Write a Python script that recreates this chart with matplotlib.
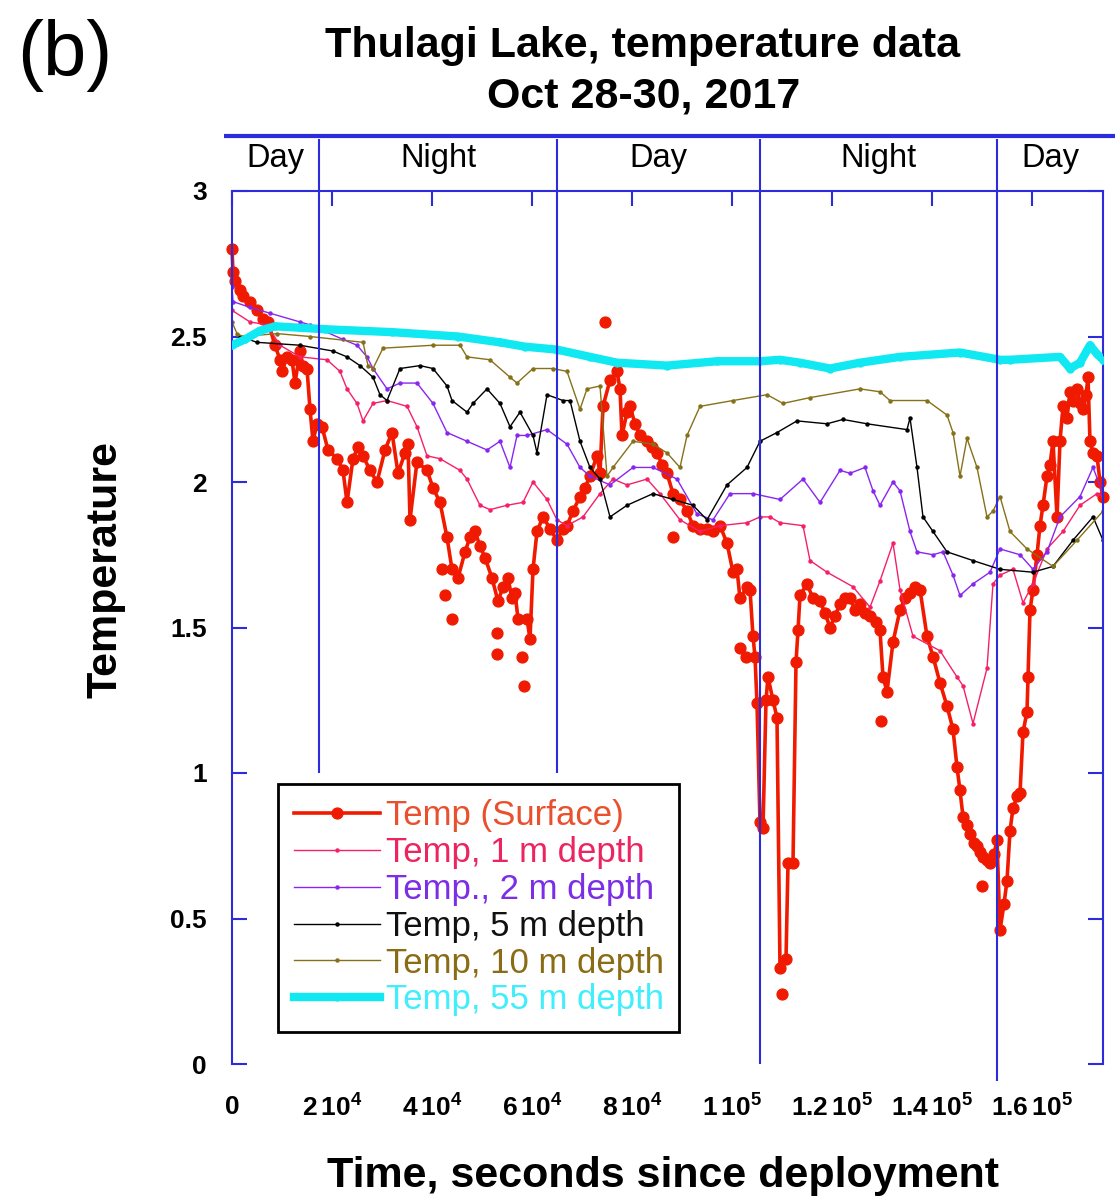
import numpy as np
import matplotlib
matplotlib.use("Agg")
import matplotlib.pyplot as plt

plt.rcParams["font.family"] = ["Liberation Sans", "DejaVu Sans"]
plt.rcParams["mathtext.fontset"] = "custom"
plt.rcParams["mathtext.rm"] = "Liberation Sans"
plt.rcParams["mathtext.bf"] = "Liberation Sans:bold"

# ── Data (time in s, temperature in °C) ─────────────────────────────────────
surface = [
    (0, 2.80), (200, 2.72), (600, 2.69), (1600, 2.66), (2200, 2.64), (3600, 2.62),
    (5000, 2.59), (6200, 2.56), (7200, 2.55), (8600, 2.47), (9600, 2.42), (10000, 2.38),
    (11000, 2.43), (12000, 2.42), (12600, 2.34), (13600, 2.45), (14200, 2.40), (15000, 2.39),
    (15600, 2.25), (16200, 2.14), (17000, 2.20), (18000, 2.19), (19200, 2.11), (21000, 2.08),
    (22200, 2.04), (23000, 1.93), (24200, 2.08), (25200, 2.12), (26200, 2.09), (27600, 2.04),
    (29000, 2.00), (30600, 2.11), (32000, 2.17), (33200, 2.03), (34600, 2.10), (35200, 2.13),
    (35600, 1.87), (37000, 2.07), (39000, 2.04), (40200, 1.98), (41600, 1.93), (43000, 1.81),
    (44000, 1.70), (45200, 1.67), (46600, 1.76), (47600, 1.81), (48600, 1.83), (49600, 1.78),
    (50600, 1.74), (52000, 1.67), (53200, 1.59), (54200, 1.64), (55200, 1.67), (56000, 1.60),
    (56600, 1.62), (57200, 1.53), (59000, 1.53), (59600, 1.46), (60200, 1.70), (61000, 1.83),
    (62200, 1.88), (63600, 1.84), (65000, 1.80), (66200, 1.84), (67000, 1.85), (68200, 1.90),
    (69600, 1.95), (70600, 1.98), (71600, 2.02), (73000, 2.09), (73600, 2.03), (74200, 2.26),
    (75600, 2.35), (77000, 2.38), (77600, 2.32), (78000, 2.16), (79000, 2.24), (79600, 2.26),
    (80600, 2.20), (81600, 2.16), (83000, 2.14), (84000, 2.12), (85000, 2.10), (86000, 2.06),
    (87000, 2.03), (88200, 1.96), (89600, 1.94), (91000, 1.90), (92200, 1.85), (93600, 1.84),
    (95000, 1.84), (96200, 1.83), (97600, 1.85), (99000, 1.79), (100200, 1.69), (101000, 1.70),
    (101600, 1.60), (103000, 1.64), (103600, 1.63), (104200, 1.47), (104600, 1.40), (105000, 1.24),
    (105600, 0.83), (106200, 0.81), (106800, 1.25), (107200, 1.33), (108200, 1.25), (109000, 1.19),
    (109600, 0.33), (110800, 0.36), (111200, 0.69), (112200, 0.69), (112800, 1.38), (113200, 1.49),
    (113600, 1.61), (115000, 1.65), (116200, 1.60), (117600, 1.59), (118600, 1.55), (119600, 1.50),
    (120600, 1.54), (121600, 1.58), (122600, 1.60), (123600, 1.60), (124600, 1.56), (125600, 1.58),
    (126600, 1.55), (127600, 1.54), (128800, 1.52), (129600, 1.49), (130200, 1.33), (131000, 1.28),
    (132200, 1.45), (133600, 1.56), (134600, 1.60), (135600, 1.62), (136600, 1.64), (137600, 1.63),
    (139000, 1.47), (140200, 1.40), (141600, 1.31), (143000, 1.23), (144200, 1.15), (145000, 1.02),
    (145600, 0.94), (146200, 0.85), (147000, 0.82), (147600, 0.79), (148400, 0.76), (149000, 0.75),
    (149600, 0.73), (150200, 0.71), (151000, 0.70), (151600, 0.69), (152400, 0.72), (153000, 0.77),
    (153600, 0.46), (154400, 0.55), (155000, 0.63), (155600, 0.80), (156200, 0.88), (157000, 0.92),
    (157600, 0.93), (158200, 1.14), (159000, 1.21), (159200, 1.33), (159600, 1.56), (160200, 1.63),
    (161000, 1.75), (161600, 1.85), (162200, 1.92), (163000, 2.02), (163600, 2.06), (164200, 2.14),
    (165000, 1.88), (165600, 2.14), (166200, 2.26), (167000, 2.22), (167600, 2.31), (168200, 2.28),
    (169000, 2.32), (169600, 2.27), (170200, 2.25), (170800, 2.30), (171200, 2.36), (171600, 2.14),
    (172200, 2.10), (173000, 2.09), (173600, 2.00), (174200, 1.95),
]
surface_stray = [
    (42000, 1.70), (42600, 1.61), (44000, 1.53), (53000, 1.48), (53000, 1.41),
    (58000, 1.40), (58400, 1.30), (74600, 2.55), (88200, 1.81), (101600, 1.43),
    (102800, 1.40), (110000, 0.24), (129800, 1.18), (150000, 0.61),
]
depth_1m = [
    (0, 2.59), (3600, 2.55), (7000, 2.54), (9600, 2.47), (13600, 2.43), (19000, 2.42),
    (21600, 2.38), (23000, 2.32), (25000, 2.27), (26200, 2.21), (28200, 2.27), (31000, 2.28),
    (35000, 2.26), (37000, 2.19), (39000, 2.09), (41600, 2.08), (45600, 2.04), (47000, 2.01),
    (49600, 1.92), (51600, 1.905), (55000, 1.92), (58200, 1.93), (60200, 2.00), (63000, 1.94),
    (65000, 1.87), (67000, 1.85), (70200, 1.88), (73600, 1.96), (76200, 2.01), (79000, 1.99),
    (83000, 2.01), (85600, 1.96), (89600, 1.87), (93600, 1.83), (97600, 1.85), (103000, 1.86),
    (105600, 1.88), (107600, 1.88), (109600, 1.86), (114200, 1.85), (115600, 1.73), (119000, 1.69),
    (124200, 1.64), (127600, 1.57), (129600, 1.66), (132200, 1.79), (133600, 1.63), (136200, 1.47),
    (141600, 1.42), (145000, 1.33), (146200, 1.30), (148200, 1.17), (151000, 1.36), (152200, 1.65),
    (153600, 1.68), (156200, 1.70), (158200, 1.585), (160200, 1.65), (163000, 1.77), (166200, 1.83),
    (169600, 1.92), (173000, 1.96), (174200, 1.95),
]
depth_2m = [
    (0, 2.67), (200, 2.62), (3600, 2.60), (7600, 2.58), (13600, 2.55), (15600, 2.54),
    (22200, 2.49), (25000, 2.47), (27000, 2.43), (28200, 2.39), (31000, 2.32), (33600, 2.34),
    (37000, 2.34), (40200, 2.27), (43000, 2.17), (47000, 2.14), (51000, 2.11), (53600, 2.14),
    (55600, 2.05), (57000, 2.16), (59000, 2.16), (63000, 2.18), (67000, 2.13), (69600, 2.05),
    (71600, 2.02), (75600, 1.99), (80200, 2.05), (84200, 2.05), (89000, 2.01), (93000, 1.89),
    (96200, 1.87), (99600, 1.96), (104200, 1.96), (109600, 1.94), (114200, 2.01), (117600, 1.93),
    (121600, 2.04), (123600, 2.03), (126600, 2.05), (128200, 1.97), (129600, 1.92), (132200, 2.00),
    (133600, 1.97), (135600, 1.83), (137000, 1.76), (140200, 1.75), (142200, 1.76), (144200, 1.68),
    (145600, 1.61), (148200, 1.65), (151600, 1.69), (153600, 1.77), (157600, 1.75), (160200, 1.70),
    (163000, 1.76), (165600, 1.88), (169600, 1.95), (172200, 2.05), (174200, 1.96),
]
depth_5m = [
    (1600, 2.50), (5000, 2.48), (13600, 2.47), (20200, 2.45), (23000, 2.43), (25600, 2.40),
    (28200, 2.36), (29600, 2.30), (31000, 2.28), (33600, 2.39), (37600, 2.40), (40200, 2.39),
    (43000, 2.33), (44000, 2.28), (47000, 2.24), (48200, 2.27), (51000, 2.32), (53600, 2.27),
    (55600, 2.19), (57600, 2.24), (60200, 2.16), (61000, 2.10), (63000, 2.30), (66200, 2.28),
    (67600, 2.28), (69600, 2.14), (71600, 2.05), (73600, 2.01), (75600, 1.88), (79000, 1.92),
    (84200, 1.96), (88200, 1.94), (92200, 1.92), (95000, 1.87), (99000, 1.99), (103000, 2.05),
    (105600, 2.14), (109000, 2.17), (113000, 2.21), (119000, 2.20), (122200, 2.215), (127000, 2.20),
    (135000, 2.18), (135600, 2.22), (137000, 2.05), (138200, 1.88), (140200, 1.83), (143000, 1.76),
    (148200, 1.73), (153600, 1.70), (160200, 1.69), (164200, 1.71), (168200, 1.80), (172200, 1.88),
    (174200, 1.80),
]
depth_10m = [
    (0, 2.55), (1000, 2.51), (2200, 2.50), (9000, 2.51), (15600, 2.50), (26200, 2.48),
    (27200, 2.40), (28200, 2.39), (30200, 2.46), (40200, 2.47), (45600, 2.47), (47000, 2.43),
    (51600, 2.42), (55600, 2.36), (57000, 2.34), (60200, 2.39), (64200, 2.39), (67000, 2.38),
    (69600, 2.25), (71000, 2.32), (73600, 2.33), (75000, 2.02), (76200, 2.05), (80200, 2.14),
    (84200, 2.13), (87000, 2.10), (89600, 2.05), (91000, 2.16), (93600, 2.26), (100200, 2.28),
    (107000, 2.30), (110200, 2.27), (115600, 2.29), (125600, 2.32), (129600, 2.31), (131600, 2.28),
    (139000, 2.28), (143000, 2.23), (144200, 2.17), (145600, 2.02), (147000, 2.15), (149000, 2.05),
    (151000, 1.88), (152200, 1.90), (153600, 1.95), (155600, 1.83), (159000, 1.77), (164200, 1.71),
    (169000, 1.80), (174200, 1.90),
]
depth_55m = [
    (0, 2.47), (2600, 2.49), (5600, 2.52), (8600, 2.535), (18600, 2.525), (32000, 2.515),
    (45200, 2.50), (53600, 2.48), (58600, 2.465), (65000, 2.455), (71600, 2.43), (77000, 2.41),
    (87000, 2.40), (97000, 2.415), (105600, 2.415), (109600, 2.42), (113600, 2.41), (119600, 2.39),
    (125600, 2.41), (133600, 2.43), (145600, 2.445), (153600, 2.42), (155600, 2.42), (165600, 2.43),
    (167600, 2.39), (169600, 2.41), (171600, 2.47), (173000, 2.44), (174200, 2.42),
]

labels = ["Temp (Surface)", "Temp, 1 m depth", "Temp., 2 m depth",
          "Temp, 5 m depth", "Temp, 10 m depth", "Temp, 55 m depth"]

# day / night boundaries (s) and period names
boundaries = [17400, 65000, 105600, 153000]
periods = ["Day", "Night", "Day", "Night", "Day"]

x_ticks = [0, 20000, 40000, 60000, 80000, 100000, 120000, 140000, 160000]
x_ticklabels = ["0", r"$\mathbf{2\,10^{4}}$", r"$\mathbf{4\,10^{4}}$", r"$\mathbf{6\,10^{4}}$",
                r"$\mathbf{8\,10^{4}}$", r"$\mathbf{1\,10^{5}}$", r"$\mathbf{1.2\,10^{5}}$",
                r"$\mathbf{1.4\,10^{5}}$", r"$\mathbf{1.6\,10^{5}}$"]
y_ticks = [0, 0.5, 1, 1.5, 2, 2.5, 3]
y_ticklabels = ["0", "0.5", "1", "1.5", "2", "2.5", "3"]
X_MAX = 174200

# ── Colours ─────────────────────────────────────────────────────────────────
BLUE = "#2c2cdc"
RED = "#f01a00"
PINK = "#f52068"
PURPLE = "#8a25f0"
BLACK = "#000000"
OLIVE = "#86701a"
CYAN = "#10e8f2"
TEXT_COLORS = ["#e8502e", "#ec2560", "#7b2ee6", "#111111", "#8a6c14", "#40eefc"]

# ── Figure ──────────────────────────────────────────────────────────────────
fig = plt.figure(figsize=(11.15, 12), dpi=100)
ax = fig.add_axes([232 / 1115, 136 / 1200, 871 / 1115, 873 / 1200])

def xy(series):
    arr = np.array(series, dtype=float)
    return arr[:, 0], arr[:, 1]

t, v = xy(surface)
ax.plot(t, v, "-o", color=RED, lw=2.6, ms=7.8, mec=RED, label=labels[0],
        zorder=2, clip_on=False)
t, v = xy(surface_stray)
ax.plot(t, v, "o", color=RED, ms=7.8, mec=RED, zorder=2)
styles = [(depth_1m, PINK), (depth_2m, PURPLE), (depth_5m, BLACK), (depth_10m, OLIVE)]
for (series, col), lab in zip(styles, labels[1:5]):
    t, v = xy(series)
    ax.plot(t, v, "-o", color=col, lw=1.0, ms=2.2, label=lab, zorder=2.5)
t, v = xy(depth_55m)
ax.plot(t, v, "-o", color=CYAN, lw=6, ms=5, mec=CYAN, label=labels[5], zorder=2.8)

ax.set_xlim(0, X_MAX)
ax.set_ylim(0, 3)

# spines and ticks
for side in ["left", "right", "top"]:
    ax.spines[side].set_color(BLUE)
    ax.spines[side].set_linewidth(1.5)
ax.spines["bottom"].set_visible(False)

ax.set_xticks(x_ticks)
ax.set_xticklabels(x_ticklabels, fontsize=19, fontweight="bold")
ax.set_yticks(y_ticks)
ax.set_yticklabels(y_ticklabels, fontsize=19, fontweight="bold")
ax.tick_params(axis="x", direction="in", length=11, width=1.5, color=BLUE,
               top=True, bottom=False, pad=22)
ax.tick_params(axis="y", direction="in", length=11, width=1.5, color=BLUE,
               left=True, right=True, pad=18)

# day / night band above the axes
ax.plot([-0.009, 1.014], [1.063, 1.063], transform=ax.transAxes, color=BLUE,
        lw=3, clip_on=False, solid_capstyle="butt")
ax.vlines(boundaries, [1.0, 1.0, 0.0, -0.06], 3.178, colors=BLUE, lw=1.5,
          clip_on=False, zorder=4)
edges = [0] + boundaries + [X_MAX]
for i, name in enumerate(periods):
    ax.text((edges[i] + edges[i + 1]) / 2, 3.11, name, ha="center", va="center",
            fontsize=23.5, clip_on=False)

leg = ax.legend(loc="lower left", bbox_to_anchor=(0.0528, 0.0367), borderaxespad=0,
                fontsize=25, frameon=True, fancybox=False, edgecolor="black",
                framealpha=1, handlelength=2.5, handletextpad=0.15,
                labelspacing=0.11, borderpad=0.45)
leg.get_frame().set_linewidth(2)
for txt, col in zip(leg.get_texts(), TEXT_COLORS):
    txt.set_color(col)

# titles and axis labels
fig.text(0.5762, 1 - 57 / 1200, "Thulagi Lake, temperature data", ha="center",
         va="baseline", fontsize=31, fontweight="bold")
fig.text(0.5771, 1 - 107 / 1200, "Oct 28-30, 2017", ha="center",
         va="baseline", fontsize=31, fontweight="bold")
fig.text(65 / 1115, 1 - 55 / 1200, "(b)", ha="center", va="center", fontsize=56)
fig.text(663 / 1115, 1 - 1187 / 1200, "Time, seconds since deployment", ha="center",
         va="baseline", fontsize=31, fontweight="bold")
fig.text(105 / 1115, 1 - 570 / 1200, "Temperature", ha="center", va="center",
         rotation=90, fontsize=31, fontweight="bold")

fig.savefig("out.png", dpi=100)
